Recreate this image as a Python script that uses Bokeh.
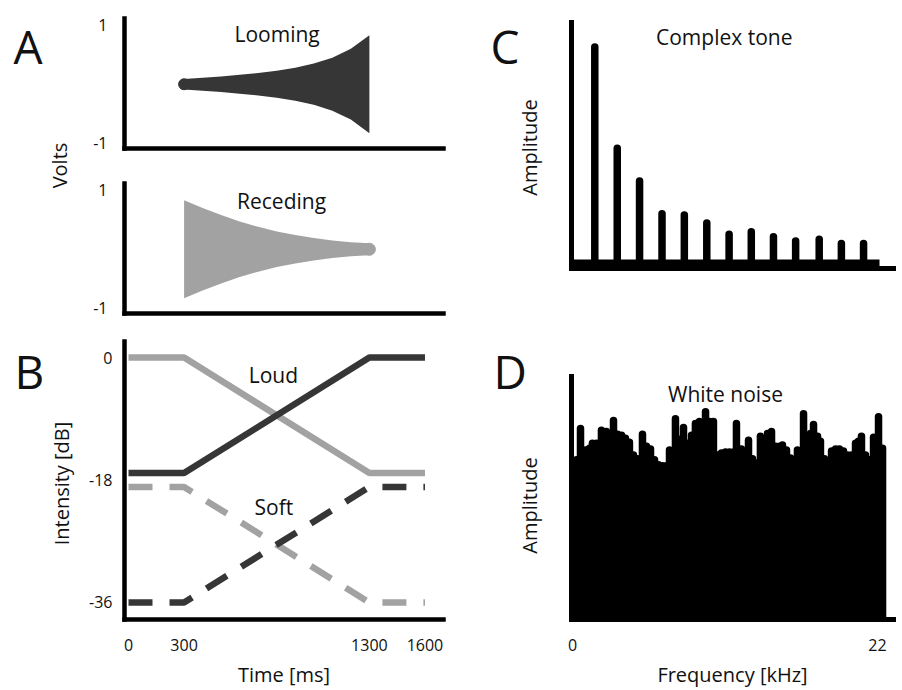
import math
from bokeh.plotting import figure
from bokeh.models import Range1d, Label, FixedTicker
from bokeh.layouts import row, column
from bokeh.embed import file_html
from bokeh.resources import INLINE

FONT = "Open Sans"
DARK = "#363636"
GREY = "#a2a2a2"
INK = "#111111"

# ---------------- data ----------------
# Panel A: waveform envelopes (volts) over time (ms)
a_time = [300, 400, 500, 600, 700, 800, 900, 1000, 1100, 1200, 1300]
looming_env = [0.09, 0.11, 0.13, 0.16, 0.19, 0.23, 0.28, 0.35, 0.45, 0.60, 0.83]
receding_env = [0.83, 0.70, 0.58, 0.47, 0.38, 0.30, 0.24, 0.19, 0.15, 0.12, 0.10]
a_ticks = [-1, 1]
a_tick_labels = ["-1", "1"]

# Panel B: intensity profiles (dB)
b_time = [0, 300, 1300, 1600]
loud_looming = [-18, -18, 0, 0]
loud_receding = [0, 0, -18, -18]
soft_looming = [-36, -36, -18, -18]
soft_receding = [-18, -18, -36, -36]
b_time_ticks = [0, 300, 1300, 1600]
b_db_ticks = [0, -19, -38]
b_db_labels = ["0", "-18", "-36"]

# Panel C: complex tone spectrum (kHz, relative amplitude)
c_freq = [1.61, 3.23, 4.84, 6.46, 8.07, 9.69, 11.3, 12.9, 14.5, 16.1, 17.8, 19.4, 21.0]
c_amp = [1.00, 0.533, 0.382, 0.232, 0.226, 0.189, 0.137, 0.149, 0.126, 0.106, 0.114, 0.094, 0.094]
c_freq_span = [0, 22.15]

# Panel D: white noise spectrum (kHz, % of max amplitude)
d_freq = [0.00, 0.29, 0.58, 0.94, 1.23, 1.44, 1.73, 2.09, 2.45, 2.96, 3.25, 3.54, 3.82, 4.11,
          4.40, 4.69, 5.05, 5.34, 5.63, 5.92, 6.20, 6.49, 6.78, 7.00, 7.43, 7.72, 8.01, 8.30,
          8.59, 8.87, 9.16, 9.60, 9.88, 10.17, 10.46, 10.75, 11.04, 11.33, 11.62, 11.83, 12.19,
          12.41, 12.70, 12.99, 13.28, 13.56, 13.85, 14.07, 14.36, 14.65, 14.94, 15.15, 15.44,
          15.73, 16.02, 16.23, 16.67, 16.96, 17.17, 17.39, 17.68, 17.89, 18.18, 18.40, 18.69,
          18.98, 19.26, 19.55, 19.84, 20.13, 20.42, 20.63, 20.85, 21.14, 21.43, 21.72, 22.08, 22.37]
d_amp = [76.0, 76.5, 91.8, 81.3, 82.2, 84.6, 84.6, 90.9, 90.4, 95.7, 89.0, 88.5, 87.0, 85.1,
         78.9, 77.0, 89.0, 83.2, 81.8, 76.5, 74.1, 73.6, 73.6, 81.3, 96.6, 86.6, 92.3, 84.6,
         88.5, 94.2, 95.2, 100.0, 95.2, 95.2, 78.9, 79.8, 80.3, 80.3, 80.3, 94.2, 81.8,
         79.8, 86.1, 77.0, 75.0, 88.0, 86.6, 89.4, 90.4, 83.2, 83.2, 83.7, 81.3,
         77.4, 74.1, 81.3, 99.0, 85.6, 89.4, 93.8, 88.0, 85.6, 77.0, 73.6, 80.8,
         81.8, 81.8, 80.8, 78.9, 78.9, 84.6, 85.6, 88.0, 78.9, 76.5, 87.5, 97.6, 82.2]
d_ticks = [0, 22]


# ---------------- helpers ----------------
def make_fig(w, h, xr, yr, left, right, top, bottom, axis_w):
    p = figure(width=w, height=h, x_range=xr, y_range=yr, toolbar_location=None,
               output_backend="svg", min_border_left=left, min_border_right=right,
               min_border_top=top, min_border_bottom=bottom, title=None)
    p.xgrid.visible = False
    p.ygrid.visible = False
    p.outline_line_color = None
    p.background_fill_color = "white"
    p.border_fill_color = "white"
    for ax in p.axis:
        ax.axis_line_color = "black"
        ax.axis_line_width = axis_w
        ax.axis_line_cap = "square"
        ax.major_tick_line_color = None
        ax.minor_tick_line_color = None
        ax.major_tick_out = 0
        ax.major_tick_in = 0
        ax.minor_tick_out = 0
        ax.major_label_text_font = FONT
        ax.major_label_text_font_size = "16px"
        ax.major_label_text_color = INK
        ax.axis_label_text_font = FONT
        ax.axis_label_text_font_style = "normal"
        ax.axis_label_text_font_size = "20px"
        ax.axis_label_text_color = INK
        ax.ticker = FixedTicker(ticks=[], minor_ticks=[])
    return p


def lab(p, x, y, text, size, align="center", angle=0.0, y_range_name="default"):
    p.add_layout(Label(x=x, y=y, text=text, text_font=FONT, text_font_size=size,
                       text_align=align, text_baseline="alphabetic", angle=angle,
                       text_color=INK, y_range_name=y_range_name))


def strip(w):
    s = figure(width=w, height=690, x_range=Range1d(0, w), y_range=Range1d(690, 0),
               toolbar_location=None, output_backend="svg", min_border=0, title=None,
               x_axis_location=None, y_axis_location=None)
    s.grid.visible = False
    s.outline_line_color = None
    return s


T_RANGE = (-21.6, 1700)

# ---------------- Panel A ----------------
A1 = make_fig(371, 165, Range1d(*T_RANGE), Range1d(-1.09, 1.115), 44, 8, 18, 17, 4.5)
A1.yaxis.ticker = FixedTicker(ticks=a_ticks, minor_ticks=[])
A1.yaxis.major_label_overrides = dict(zip(a_ticks, a_tick_labels))
A1.yaxis.major_label_standoff = 17
A1.varea(x=a_time, y1=[-v for v in looming_env], y2=looming_env, color=DARK)
A1.scatter(x=[a_time[0]], y=[0], size=11, color=DARK)
lab(A1, 802, 0.86, "Looming", "21px")

A2 = make_fig(371, 165, Range1d(*T_RANGE), Range1d(-1.09, 1.115), 44, 8, 18, 17, 4.5)
A2.yaxis.ticker = FixedTicker(ticks=a_ticks, minor_ticks=[])
A2.yaxis.major_label_overrides = dict(zip(a_ticks, a_tick_labels))
A2.yaxis.major_label_standoff = 17
A2.varea(x=a_time, y1=[-v for v in receding_env], y2=receding_env, color=GREY)
A2.scatter(x=[a_time[-1]], y=[0], size=12, color=GREY)
lab(A2, 826, 0.82, "Receding", "21px")

# ---------------- Panel B ----------------
B = make_fig(371, 360, Range1d(*T_RANGE), Range1d(-40.8, 2.5), 44, 8, 11, 67, 4.5)
B.extra_y_ranges = {"soft": Range1d(-38.65, 4.65)}
B.xaxis.ticker = FixedTicker(ticks=b_time_ticks, minor_ticks=[])
B.xaxis.major_label_standoff = 19
B.xaxis.axis_label = "Time [ms]"
B.xaxis.axis_label_standoff = 7
B.yaxis.ticker = FixedTicker(ticks=b_db_ticks, minor_ticks=[])
B.yaxis.major_label_overrides = dict(zip(b_db_ticks, b_db_labels))
B.yaxis.major_label_standoff = 12
B.line(b_time, loud_receding, line_width=6.5, color=GREY)
B.line(b_time, loud_looming, line_width=6.5, color=DARK)
B.line(b_time, soft_receding, line_width=6.5, color=GREY, line_dash="24 17", y_range_name="soft")
B.line(b_time, soft_looming, line_width=6.5, color=DARK, line_dash="24 17", y_range_name="soft")
lab(B, 782, -2.72, "Loud", "21px")
lab(B, 785, -23.2, "Soft", "21px")

# ---------------- Panel C ----------------
C = make_fig(351, 330, Range1d(-0.07, 23.16), Range1d(-0.0207, 1.113), 20, 9, 22, 62, 5)
C.segment(x0=c_freq_span[0], y0=0, x1=c_freq_span[1], y1=0, line_width=9, color="black")
C.segment(x0=c_freq, y0=[0] * len(c_freq), x1=c_freq, y1=c_amp, line_width=7.5,
          line_cap="round", color="black")
lab(C, 10.95, 1.048, "Complex tone", "21px")

# ---------------- Panel D ----------------
D = make_fig(351, 360, Range1d(-0.07, 23.16), Range1d(-1.44, 117.2), 20, 9, 46, 67, 5)
D.xaxis.ticker = FixedTicker(ticks=d_ticks, minor_ticks=[])
D.xaxis.major_label_standoff = 19
D.xaxis.axis_label = "Frequency [kHz]"
D.xaxis.axis_label_standoff = 7
D.segment(x0=d_freq, y0=[0] * len(d_freq), x1=d_freq, y1=d_amp, line_width=7.5,
          line_cap="round", color="black")
lab(D, 11.04, 108.5, "White noise", "21px")

# ---------------- label strips ----------------
SL = strip(80)
lab(SL, 13, 45, "A", "46px", align="left")
lab(SL, 59, 165, "Volts", "20px", angle=math.pi / 2)
lab(SL, 14, 370, "B", "46px", align="left")
lab(SL, 61, 483, "Intensity [dB]", "20px", angle=math.pi / 2)

SR = strip(100)
lab(SR, 39, 45, "C", "46px", align="left")
lab(SR, 78, 147, "Amplitude", "20px", angle=math.pi / 2)
lab(SR, 42, 370, "D", "46px", align="left")
lab(SR, 78, 505, "Amplitude", "20px", angle=math.pi / 2)

layout = row(row(SL, column(A1, A2, B)), row(SR, column(C, D)))

open("out.html", "w").write(file_html(layout, INLINE))
